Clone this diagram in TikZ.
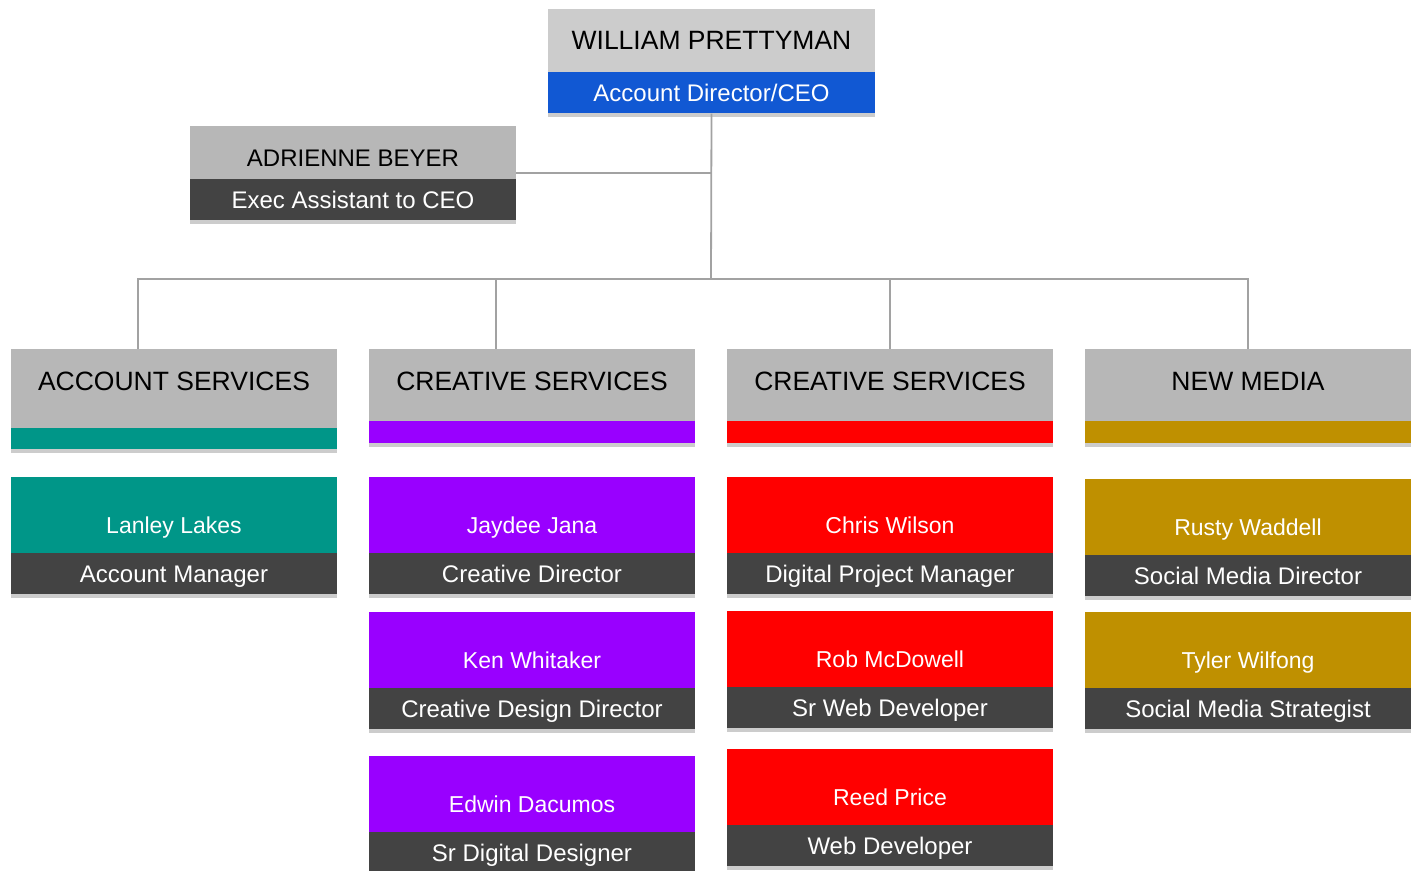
\documentclass[tikz,border=0pt]{standalone}
\usepackage{fontspec}
\setmainfont{Liberation Sans}
\usetikzlibrary{positioning, shadows}
\definecolor{topgray}{HTML}{CCCCCC}
\definecolor{headgray}{HTML}{B7B7B7}
\definecolor{rolegray}{HTML}{434343}
\definecolor{ceoblue}{HTML}{1158D3}
\definecolor{acctteal}{HTML}{009688}
\definecolor{crpurple}{HTML}{9900FF}
\definecolor{crred}{HTML}{FF0000}
\definecolor{nmgold}{HTML}{BF9000}
\definecolor{linegray}{HTML}{A2A2A2}
\tikzset{
  card/.style={minimum width=326pt, inner sep=0pt, align=center, drop shadow={shadow xshift=0pt, shadow yshift=-4pt, opacity=0.4}},
  headbox/.style={card, fill=headgray, font=\fontsize{26.5}{30}\selectfont, minimum height=72pt, text depth=8pt},
  bandbox/.style={card, fill=#1, minimum height=22pt},
  namebox/.style={card, fill=#1, text=white, font=\fontsize{23}{28}\selectfont, minimum height=76pt, text height=40pt, text depth=4pt},
  rolebox/.style={card, fill=rolegray, text=white, font=\fontsize{24}{28}\selectfont, minimum height=41pt, text height=23pt, text depth=5pt},
  link/.style={draw=linegray, line width=1.8pt}
}
\begin{document}
\begin{tikzpicture}[x=1pt, y=-1pt]
    \useasboundingbox[fill=white] (0,0) rectangle (1424,870);

    % top of the chart
    \node[card, fill=topgray, minimum width=327pt, minimum height=63pt, font=\fontsize{26.5}{30}\selectfont] (ceoname) at (711.5,40.5) {WILLIAM PRETTYMAN};
    \node[rolebox, fill=ceoblue, minimum width=327pt, below=0pt of ceoname] (ceorole) {Account Director/CEO};

    \node[card, fill=headgray, minimum height=53pt, text height=28pt, font=\fontsize{24}{28}\selectfont] (asstname) at (353,152.5) {ADRIENNE BEYER};
    \node[rolebox, below=0pt of asstname] (asstrole) {Exec Assistant to CEO};

    % departments
    \node[headbox, minimum height=79pt, text depth=15pt] (acct) at (174,388.5) {ACCOUNT SERVICES};
    \node[bandbox=acctteal, minimum height=21pt, below=0pt of acct] (acctband) {};
    \node[headbox] (creata) at (532,385) {CREATIVE SERVICES};
    \node[bandbox=crpurple, below=0pt of creata] (creataband) {};
    \node[headbox] (creatb) at (890,385) {CREATIVE SERVICES};
    \node[bandbox=crred, below=0pt of creatb] (creatbband) {};
    \node[headbox] (newmedia) at (1248,385) {NEW MEDIA};
    \node[bandbox=nmgold, below=0pt of newmedia] (newmediaband) {};

    % people
    \node[namebox=acctteal] (lanley) at (174,515) {Lanley Lakes};
    \node[rolebox, below=0pt of lanley] (lanleyrole) {Account Manager};

    \node[namebox=crpurple] (jaydee) at (532,515) {Jaydee Jana};
    \node[rolebox, below=0pt of jaydee] (jaydeerole) {Creative Director};
    \node[namebox=crpurple] (ken) at (532,650) {Ken Whitaker};
    \node[rolebox, below=0pt of ken] (kenrole) {Creative Design Director};
    \node[namebox=crpurple] (edwin) at (532,794) {Edwin Dacumos};
    \node[rolebox, below=0pt of edwin] (edwinrole) {Sr Digital Designer};

    \node[namebox=crred] (chris) at (890,515) {Chris Wilson};
    \node[rolebox, below=0pt of chris] (chrisrole) {Digital Project Manager};
    \node[namebox=crred] (rob) at (890,649) {Rob McDowell};
    \node[rolebox, below=0pt of rob] (robrole) {Sr Web Developer};
    \node[namebox=crred] (reed) at (890,787) {Reed Price};
    \node[rolebox, below=0pt of reed] (reedrole) {Web Developer};

    \node[namebox=nmgold] (rusty) at (1248,517) {Rusty Waddell};
    \node[rolebox, below=0pt of rusty] (rustyrole) {Social Media Director};
    \node[namebox=nmgold] (tyler) at (1248,650) {Tyler Wilfong};
    \node[rolebox, below=0pt of tyler] (tylerrole) {Social Media Strategist};

    % connectors
    \coordinate (bus) at (711,279);
    \draw[link] (ceorole.south) -- (bus);
    \draw[link] ([yshift=6pt]asstrole.north east) -- ([yshift=6pt]asstrole.north east -| ceorole.south);
    \draw[link] ([xshift=-36pt]acct.north) |- (newmedia.north |- bus) -- (newmedia.north);
    \draw[link] ([xshift=-36pt]creata.north) -- ([xshift=-36pt]creata.north |- bus);
    \draw[link] (creatb.north) -- (creatb.north |- bus);

\end{tikzpicture}
\end{document}
